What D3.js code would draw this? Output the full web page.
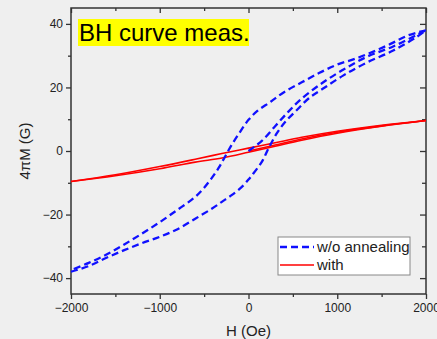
<!DOCTYPE html>
<html>
<head>
<meta charset="utf-8">
<script src="https://cdn.jsdelivr.net/npm/d3@7"></script>
<style>
  body { margin: 0; background: #efefef; }
  svg { display: block; font-family: Arial, "Liberation Sans", sans-serif; }
</style>
</head>
<body>
<svg id="chart" width="437" height="339"></svg>
<script>
// Axis ticks
const xMajor = [-2000, -1000, 0, 1000, 2000];
const xMinor = [-1500, -500, 500, 1500];
const yMajor = [-40, -20, 0, 20, 40];
const yMinor = [-30, -10, 10, 30];

// w/o annealing: initial curve, descending branch, ascending branch [H, 4piM]
const blueInitial = [[0, 0], [150, 3.2], [300, 7.8], [450, 12.4], [580, 16], [800, 20.8], [1050, 25.3], [1330, 29.6], [1630, 32.9], [1900, 36.6], [2000, 38]];
const blueDown = [[2000, 38], [1800, 36.4], [1600, 33.7], [1400, 31.2], [1200, 29], [1000, 27.2], [800, 24.6], [600, 21.6], [400, 18.5], [250, 15.5], [100, 12.6], [0, 9.8], [-100, 5.8], [-190, 1.9], [-265, -1.8], [-340, -5.5], [-430, -9.1], [-520, -12.2], [-620, -14.9], [-800, -18.5], [-1000, -22.4], [-1200, -26], [-1400, -29.4], [-1600, -32.6], [-1800, -35.2], [-2000, -37.5]];
const blueUp = [[-2000, -38], [-1800, -36.2], [-1600, -33.6], [-1400, -31.2], [-1200, -29], [-1000, -27], [-800, -24.6], [-600, -21.3], [-410, -18.1], [-300, -16], [-190, -13.9], [-75, -11.3], [0, -9], [40, -7.6], [150, -3.4], [225, 0.8], [320, 5.6], [415, 9.2], [545, 12.9], [680, 16.6], [850, 19.8], [1070, 23.8], [1330, 27.8], [1630, 31.6], [1900, 36], [2000, 38]];

// with annealing
const redInitial = [[0, 0], [300, 1.9], [600, 3.8], [1000, 5.9], [1500, 7.9], [2000, 9.6]];
const redDown = [[2000, 9.6], [1500, 8.1], [1000, 6.2], [600, 4.3], [300, 2.6], [0, 0.9], [-300, -0.8], [-600, -2.6], [-1000, -4.9], [-1500, -7.5], [-2000, -9.6]];
const redUp = [[-2000, -9.6], [-1500, -7.8], [-1000, -5.6], [-600, -3.5], [-300, -2.2], [0, -0.4], [300, 1.5], [600, 3.4], [1000, 5.6], [1500, 7.8], [2000, 9.6]];

const svg = d3.select("#chart");
const plotLeft = 71, plotRight = 426, plotTop = 8, plotBottom = 294;

const x = d3.scaleLinear().domain([-2000, 2000]).range([plotLeft, plotRight]);
const y = d3.scaleLinear().domain([-45, 45]).range([plotBottom, plotTop]);

const axisColor = "#333";

function styleAxis(g) {
  g.select(".domain").remove();
  g.selectAll("line").attr("stroke", axisColor).attr("stroke-width", 1.3);
  g.selectAll("text").attr("fill", "#222").attr("font-size", 12)
    .attr("font-family", "Arial, 'Liberation Sans', sans-serif");
}

// bottom (outward ticks, with labels)
svg.append("g").attr("transform", `translate(0,${plotBottom})`)
  .call(d3.axisBottom(x).tickValues(xMajor).tickSize(5).tickPadding(4).tickFormat(d3.format("d")))
  .call(styleAxis);
svg.append("g").attr("transform", `translate(0,${plotBottom})`)
  .call(d3.axisBottom(x).tickValues(xMinor).tickSize(3).tickFormat(""))
  .call(styleAxis);
// top (inward ticks)
svg.append("g").attr("transform", `translate(0,${plotTop})`)
  .call(d3.axisTop(x).tickValues(xMajor).tickSize(-5).tickFormat(""))
  .call(styleAxis);
svg.append("g").attr("transform", `translate(0,${plotTop})`)
  .call(d3.axisTop(x).tickValues(xMinor).tickSize(-3).tickFormat(""))
  .call(styleAxis);
// left (outward ticks, with labels)
svg.append("g").attr("transform", `translate(${plotLeft},0)`)
  .call(d3.axisLeft(y).tickValues(yMajor).tickSize(5).tickPadding(3))
  .call(styleAxis);
svg.append("g").attr("transform", `translate(${plotLeft},0)`)
  .call(d3.axisLeft(y).tickValues(yMinor).tickSize(3).tickFormat(""))
  .call(styleAxis);
// right (inward ticks)
svg.append("g").attr("transform", `translate(${plotRight},0)`)
  .call(d3.axisRight(y).tickValues(yMajor).tickSize(-6).tickFormat(""))
  .call(styleAxis);
svg.append("g").attr("transform", `translate(${plotRight},0)`)
  .call(d3.axisRight(y).tickValues(yMinor).tickSize(-4).tickFormat(""))
  .call(styleAxis);

// frame
svg.append("rect")
  .attr("x", plotLeft).attr("y", plotTop)
  .attr("width", plotRight - plotLeft).attr("height", plotBottom - plotTop)
  .attr("fill", "none").attr("stroke", axisColor).attr("stroke-width", 1.5);

// curves
const line = d3.line()
  .x(d => x(d[0]))
  .y(d => y(d[1]))
  .curve(d3.curveCatmullRom.alpha(0.5));

const plot = svg.append("g");

[redInitial, redDown, redUp].forEach(branch => {
  plot.append("path")
    .attr("d", line(branch))
    .attr("fill", "none")
    .attr("stroke", "#ff0000")
    .attr("stroke-width", 1.6);
});

[blueInitial, blueDown, blueUp].forEach(branch => {
  plot.append("path")
    .attr("d", line(branch))
    .attr("fill", "none")
    .attr("stroke", "#1010ff")
    .attr("stroke-width", 2.3)
    .attr("stroke-dasharray", "7,4");
});

// title box
const title = svg.append("g");
title.append("rect")
  .attr("x", 78).attr("y", 19).attr("width", 171).attr("height", 27)
  .attr("fill", "#ffff00");
title.append("text")
  .attr("x", 79).attr("y", 41)
  .attr("font-size", 24).attr("fill", "#000")
  .text("BH curve meas.");

// axis labels
svg.append("text")
  .attr("x", (plotLeft + plotRight) / 2).attr("y", 336)
  .attr("text-anchor", "middle")
  .attr("font-size", 15).attr("fill", "#222")
  .text("H (Oe)");

svg.append("text")
  .attr("transform", `translate(30,${(plotTop + plotBottom) / 2}) rotate(-90)`)
  .attr("text-anchor", "middle")
  .attr("font-size", 15).attr("fill", "#222")
  .text("4πM (G)");

// legend
const legend = svg.append("g");
legend.append("rect")
  .attr("x", 278).attr("y", 237).attr("width", 132).attr("height", 38)
  .attr("fill", "#ffffff").attr("stroke", "#888").attr("stroke-width", 1);

const legendItems = [
  { label: "w/o annealing", color: "#1010ff", dash: "7,4", width: 2.3 },
  { label: "with", color: "#ff0000", dash: null, width: 1.6 }
];

legendItems.forEach((item, i) => {
  const ly = 247 + i * 18;
  legend.append("line")
    .attr("x1", 280).attr("x2", 314)
    .attr("y1", ly).attr("y2", ly)
    .attr("stroke", item.color)
    .attr("stroke-width", item.width)
    .attr("stroke-dasharray", item.dash);
  legend.append("text")
    .attr("x", 317).attr("y", ly + 5)
    .attr("font-size", 15).attr("fill", "#222")
    .text(item.label);
});
</script>
</body>
</html>
